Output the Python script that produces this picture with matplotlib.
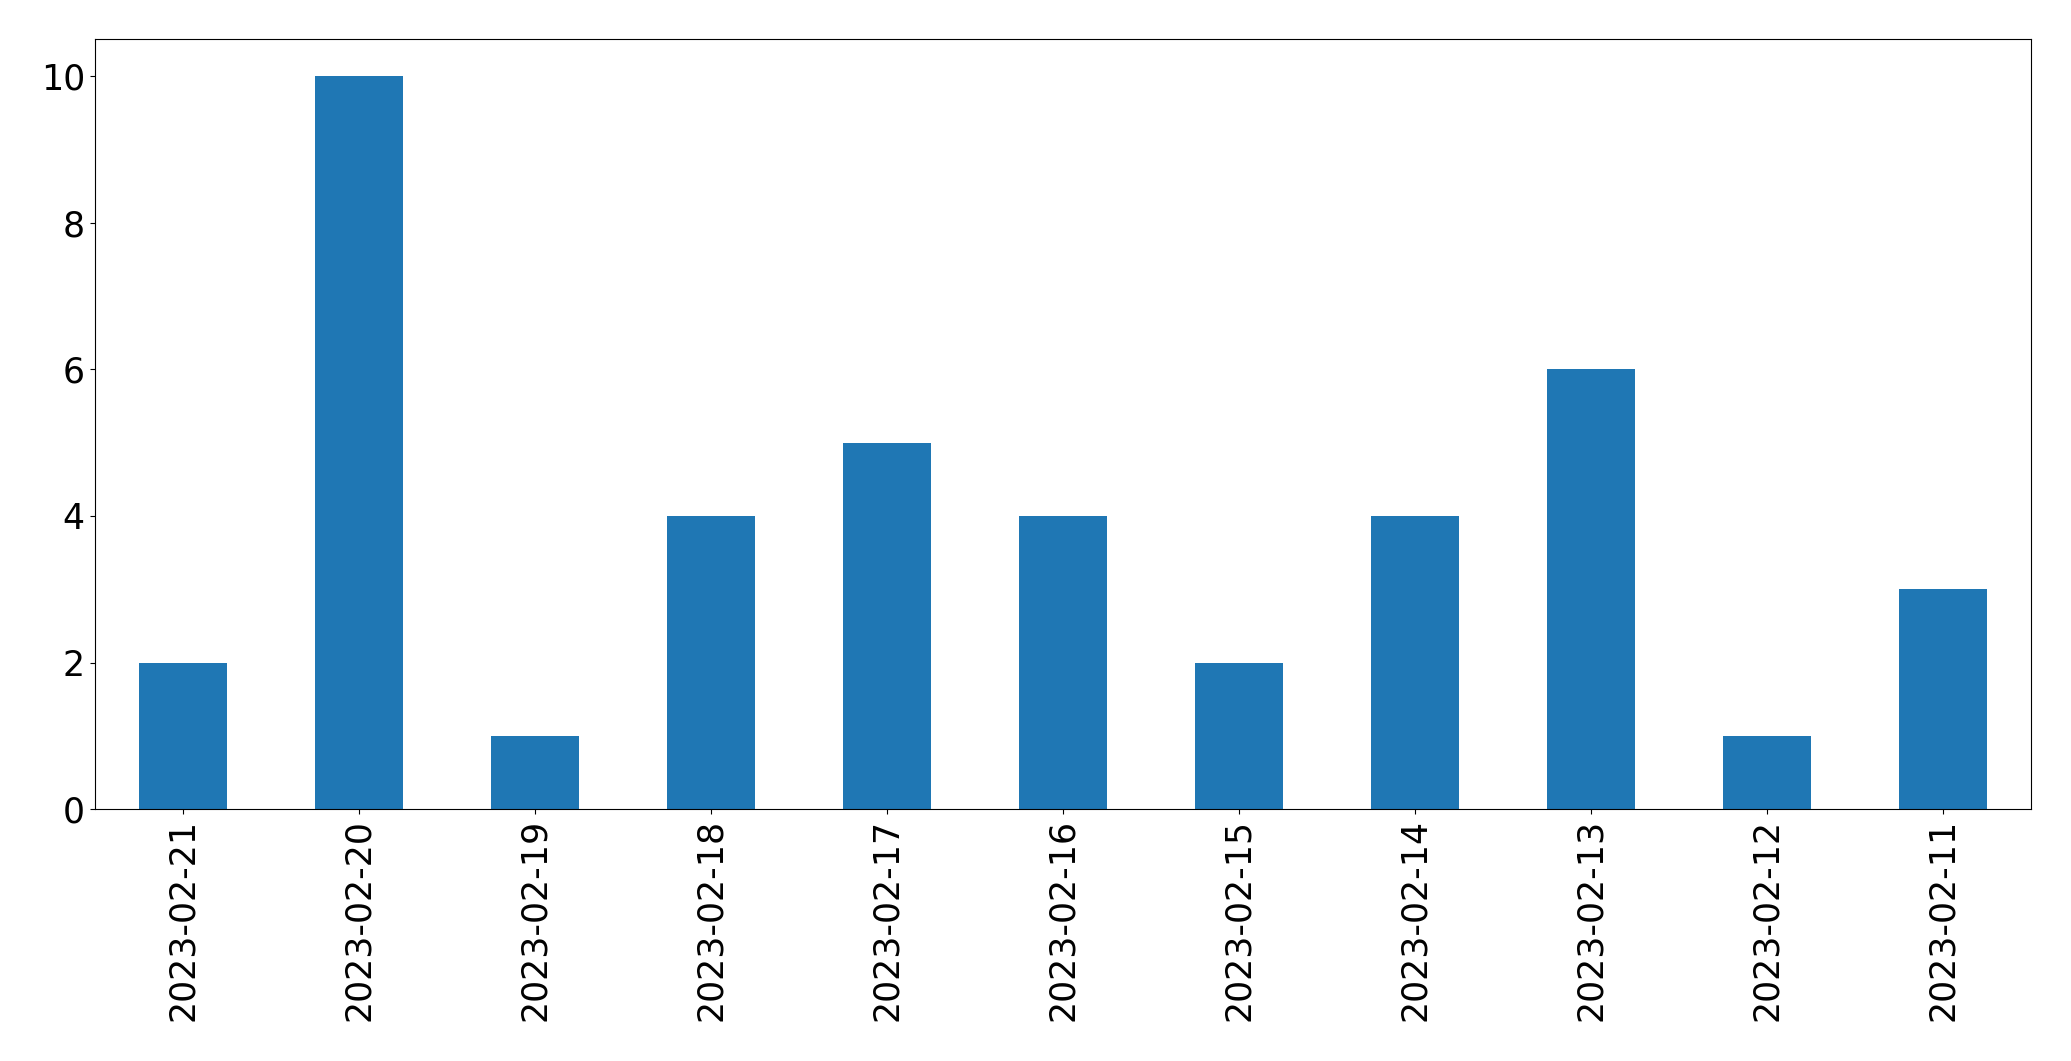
import pandas as pd
import matplotlib
matplotlib.use("Agg")
import matplotlib.pyplot as plt

dates = ["2023-02-21", "2023-02-20", "2023-02-19", "2023-02-18", "2023-02-17",
         "2023-02-16", "2023-02-15", "2023-02-14", "2023-02-13", "2023-02-12",
         "2023-02-11"]
counts = [2, 10, 1, 4, 5, 4, 2, 4, 6, 1, 3]

s = pd.Series(counts, index=dates)

fig, ax = plt.subplots(figsize=(20.71, 10.61), dpi=100)
s.plot.bar(ax=ax, color="#1f77b4")
ax.tick_params(axis="both", labelsize=25)
ax.set_yticks([0, 2, 4, 6, 8, 10])
fig.subplots_adjust(left=0.0457, right=0.9807, top=0.963, bottom=0.2372)
fig.savefig("out.png", dpi=100)
